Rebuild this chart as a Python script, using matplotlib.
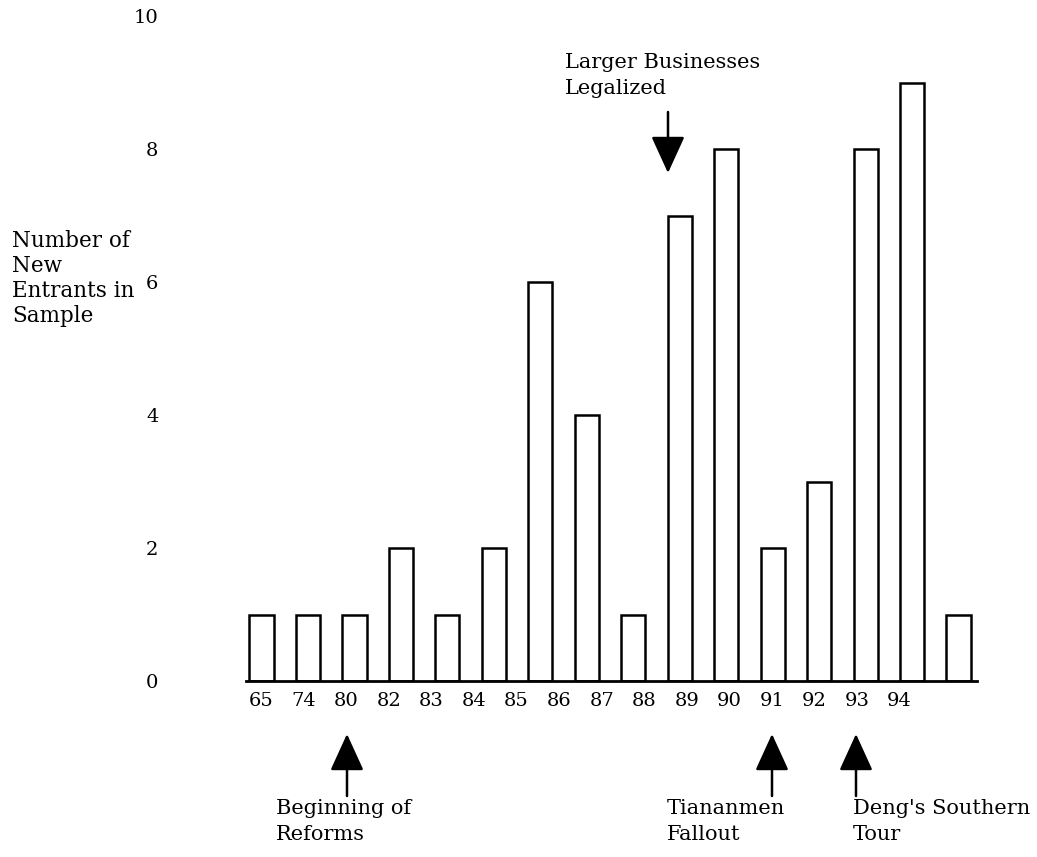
import matplotlib
matplotlib.use("Agg")
import matplotlib.pyplot as plt
from matplotlib.patches import FancyArrowPatch
import numpy as np

# ---- data ----
years = ['65', '74', '80', '82', '83', '84', '85', '86', '87', '88',
         '89', '90', '91', '92', '93', '94']
counts = [1, 1, 1, 2, 1, 2, 6, 4, 1, 7, 8, 2, 3, 8, 9, 1]
y_ticks = [0, 2, 4, 6, 8, 10]
ylabel_lines = ['Number of', 'New', 'Entrants in', 'Sample']

W, H = 1037, 857
FONT = ['DejaVu Serif']
plt.rcParams['font.family'] = FONT

fig = plt.figure(figsize=(W / 100, H / 100), dpi=100)
fig.patch.set_facecolor('white')


def fx(px):
    return px / W


def fy(py):
    return 1 - py / H


ax = fig.add_axes([fx(246), fy(681), (977 - 246) / W, 665 / H])
x = np.arange(len(counts))
ax.bar(x, counts, width=0.52, facecolor='white', edgecolor='black',
       linewidth=1.8, zorder=2)
ax.set_xlim(-0.3336, 15.397)
ax.set_ylim(0, 10)

for s in ['top', 'right', 'left']:
    ax.spines[s].set_visible(False)
ax.spines['bottom'].set_linewidth(2.0)
ax.spines['bottom'].set_zorder(3)

label_step = 0.915
ax.set_xticks(np.arange(len(years)) * label_step)
ax.set_xticklabels(years, fontsize=14)
ax.set_yticks(y_ticks)
ax.set_yticklabels([str(v) for v in y_ticks], fontsize=14)
ax.tick_params(axis='x', length=0, pad=8)
ax.tick_params(axis='y', length=0, pad=63)
ax.set_facecolor('white')

# y label as left-aligned lines
fig.text(fx(12), fy(230), '\n'.join(ylabel_lines), fontsize=15.5,
         ha='left', va='top', linespacing=1.17)


def arrow(x0, y0, x1, y1):
    a = FancyArrowPatch((fx(x0), fy(y0)), (fx(x1), fy(y1)),
                        transform=fig.transFigure,
                        arrowstyle='-|>,head_length=2.3,head_width=1.05',
                        mutation_scale=10, color='black', lw=1.8,
                        shrinkA=0, shrinkB=0)
    fig.patches.append(a)


ANN = 15
LS = 1.45

# Larger Businesses Legalized (down arrow)
fig.text(fx(565), fy(53), 'Larger Businesses\nLegalized', fontsize=ANN,
         ha='left', va='top', linespacing=LS)
arrow(668, 112, 668, 173)

# Beginning of Reforms
arrow(347, 796, 347, 734)
fig.text(fx(276), fy(799), 'Beginning of\nReforms', fontsize=ANN,
         ha='left', va='top', linespacing=LS)

# Tiananmen Fallout
arrow(772, 796, 772, 734)
fig.text(fx(667), fy(799), 'Tiananmen\nFallout', fontsize=ANN,
         ha='left', va='top', linespacing=LS)

# Deng's Southern Tour
arrow(856, 796, 856, 734)
fig.text(fx(853), fy(799), "Deng's Southern\nTour", fontsize=ANN,
         ha='left', va='top', linespacing=LS)

fig.savefig('out.png', dpi=100, facecolor='white')
